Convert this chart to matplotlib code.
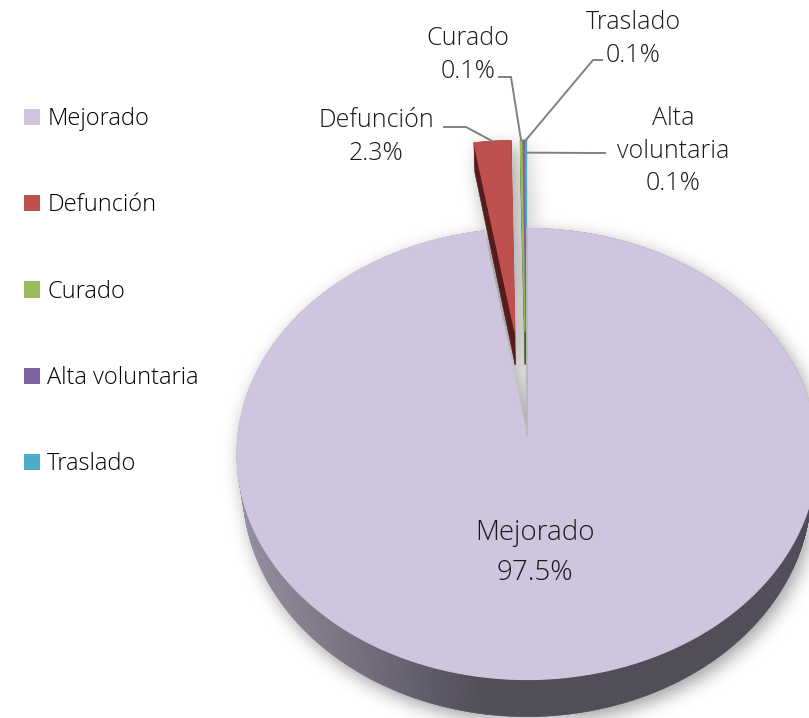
import numpy as np
import matplotlib
matplotlib.use('Agg')
import matplotlib.pyplot as plt
from matplotlib.patches import Polygon, Patch
from matplotlib.collections import PolyCollection
from matplotlib.path import Path

# datos
categorias = ['Mejorado', 'Defunción', 'Curado', 'Alta voluntaria', 'Traslado']
porcentajes = [97.5, 2.3, 0.1, 0.1, 0.1]
colores = ['#cfc5df', '#c0504d', '#9bbb59', '#8064a2', '#4bacc6']
colores_lado = ['#5a5562', '#561c1c', '#5c7532', '#4a3a60', '#2d6b7c']
separacion = [0.0, 0.48, 0.48, 0.48, 0.48]

plt.rcParams['font.family'] = ['Open Sans', 'DejaVu Sans']
plt.rcParams['font.weight'] = 'light'

W, H = 809, 718
cx, cy = 527, 435
A, B, D = 289, 224, 34
p = 0.084


def proy(u, v, z=0.0):
    s = 1.0 / (1.0 - p * v)
    return cx + A * u * s * (1 - 0.02 * z), cy + (B * v + D * z) * s


def gris_lado(x):
    t = np.clip((x - 240) / 240.0, 0, 1)
    claro = np.array([150, 143, 162]) / 255
    oscuro = np.array([80, 76, 88]) / 255
    return claro * (1 - t) + oscuro * t


tot = sum(porcentajes)
ang = np.concatenate([[0], np.cumsum(porcentajes)]) / tot * 2 * np.pi
rebanadas = []
for i in range(len(porcentajes)):
    a0, a1 = ang[i], ang[i + 1]
    am = (a0 + a1) / 2
    ou, ov = separacion[i] * np.sin(am), -separacion[i] * np.cos(am)
    t = np.linspace(a0, a1, max(3, int(np.degrees(a1 - a0) * 2)))
    u = np.concatenate([[ou], ou + np.sin(t)])
    v = np.concatenate([[ov], ov - np.cos(t)])
    rebanadas.append((u, v, am, ou, ov))

fig = plt.figure(figsize=(W / 100, H / 100), dpi=100)
ax = fig.add_axes([0, 0, 1, 1])
ax.set_xlim(0, W)
ax.set_ylim(H, 0)
ax.axis('off')

# sombra difusa
yy, xx = np.mgrid[0:H, 0:W]
pts = np.column_stack([xx.ravel() + 0.5 - 4, yy.ravel() + 0.5 - 6])
mask = np.zeros(H * W, bool)
for u, v, am, ou, ov in rebanadas:
    for z in (0, 0.5, 1):
        xs, ys = proy(u, v, z)
        mask |= Path(np.column_stack([xs, ys])).contains_points(pts)
m = mask.reshape(H, W).astype(float)
k = np.exp(-0.5 * (np.arange(-30, 31) / 9.0) ** 2)
k /= k.sum()
m = np.apply_along_axis(lambda r: np.convolve(r, k, 'same'), 1, m)
m = np.apply_along_axis(lambda c: np.convolve(c, k, 'same'), 0, m)
img = np.zeros((H, W, 4))
img[..., 3] = 0.38 * m
ax.imshow(img, extent=(0, W, H, 0), aspect='auto', zorder=0)


def dibujar(i):
    u, v, am, ou, ov = rebanadas[i]
    xt, yt = proy(u, v, 0)
    xb, yb = proy(u, v, 1)
    n = len(u)
    quads, cols = [], []
    for a in range(n):
        b = (a + 1) % n
        quads.append([(xt[a], yt[a]), (xt[b], yt[b]), (xb[b], yb[b]), (xb[a], yb[a])])
        if i == 0:
            if a == 0 or b == 0:
                cols.append('#bcb7c2')
            else:
                cols.append(gris_lado((xt[a] + xt[b]) / 2))
        else:
            cols.append(colores_lado[i])
    ax.add_collection(PolyCollection(quads, facecolors=cols, edgecolors=cols,
                                     linewidths=0.4, zorder=2))
    ax.add_patch(Polygon(np.column_stack([xt, yt]), closed=True,
                         facecolor=colores[i], edgecolor=colores[i], lw=0.8, zorder=2))


for i in [4, 3, 2, 1, 0]:
    dibujar(i)

# borde radial de Mejorado
x0, y0 = proy(np.array([0.0, 0.0]), np.array([0.0, -1.0]))
ax.plot(x0, y0, color='#b8b8b8', lw=1.3, zorder=3)

# etiquetas
pos_etiqueta = {0: (535, 553), 1: (376, 137), 2: (468, 55), 3: (673, 151), 4: (633, 39)}
for i, (c, val) in enumerate(zip(categorias, porcentajes)):
    txt = c.replace(' ', '\n') + '\n' + f'{val:.1f}%'
    x, y = pos_etiqueta[i]
    ax.text(x, y, txt, ha='center', va='center',
            fontsize=20 if i == 0 else 18, color='#1a1a1a',
            linespacing=1.55 if i == 0 else 1.42, zorder=5)

# lineas guia
guias = {1: (444, 127, 466, 1.0), 2: (499, 77, 511, 1.0),
         4: (602, 60, 593, 1.0), 3: (605, 153, 597, 0.93)}
for i, (xs, ys, xc, r) in guias.items():
    u, v, am, ou, ov = rebanadas[i]
    xe, ye = proy(ou + r * np.sin(am), ov - r * np.cos(am))
    ax.plot([xs, xc, xe], [ys, ys, ye], color='#808080', lw=1.4, zorder=4)

manejadores = [Patch(facecolor=c, edgecolor='none') for c in colores]
ax.legend(manejadores, categorias, loc='upper left',
          bbox_to_anchor=(24 / W, 1 - 107 / H), frameon=False, fontsize=17,
          labelspacing=2.64, handlelength=0.68, handleheight=0.68,
          handletextpad=0.3, borderaxespad=0, borderpad=0)

fig.savefig('out.png', dpi=100)
